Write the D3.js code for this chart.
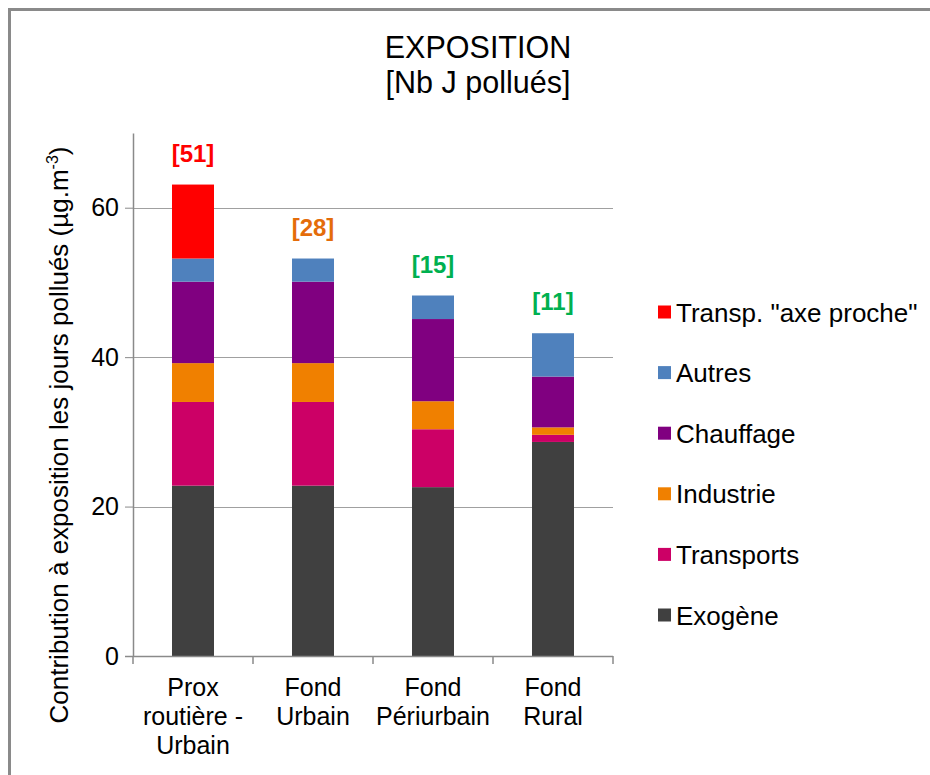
<!DOCTYPE html>
<html>
<head>
<meta charset="utf-8">
<script src="https://cdn.jsdelivr.net/npm/d3@7"></script>
<style>
  body { margin: 0; background: #fff; }
  svg text { font-family: "Liberation Sans", Arial, sans-serif; }
</style>
</head>
<body>
<svg id="chart"></svg>
<script>
const categories = [["Prox", "routière -", "Urbain"], ["Fond", "Urbain"], ["Fond", "Périurbain"], ["Fond", "Rural"]];
const seriesNames = ["Exogène", "Transports", "Industrie", "Chauffage", "Autres", 'Transp. "axe proche"'];
const seriesColors = ["#404040", "#cc0066", "#f08000", "#800080", "#4f81bd", "#ff0000"];
const exogene = [22.8, 22.8, 22.6, 28.65];
const transports = [11.2, 11.2, 7.75, 0.95];
const industrie = [5.2, 5.2, 3.75, 1.0];
const chauffage = [10.9, 10.9, 11.0, 6.8];
const autres = [3.1, 3.1, 3.15, 5.8];
const axeProche = [9.9, 0, 0, 0];
const dayLabels = ["[51]", "[28]", "[15]", "[11]"];
const dayColors = ["#ff0000", "#e46c0a", "#00b050", "#00b050"];
const yTicks = [0, 20, 40, 60];

const width = 930;
const height = 775;
const svg = d3.select("#chart").attr("width", width).attr("height", height);

// outer frame
svg.append("rect")
  .attr("x", 9.5).attr("y", 9.5)
  .attr("width", 1000).attr("height", 1000)
  .attr("fill", "none").attr("stroke", "#8a8a8a").attr("stroke-width", 3);

// title
svg.append("text").attr("x", 478).attr("y", 58).attr("text-anchor", "middle")
  .attr("font-size", 30.5).text("EXPOSITION");
svg.append("text").attr("x", 478).attr("y", 93).attr("text-anchor", "middle")
  .attr("font-size", 30.5).text("[Nb J pollués]");

const table = categories.map((c, i) => ({
  idx: i,
  "Exogène": exogene[i],
  "Transports": transports[i],
  "Industrie": industrie[i],
  "Chauffage": chauffage[i],
  "Autres": autres[i],
  'Transp. "axe proche"': axeProche[i]
}));

const stacked = d3.stack().keys(seriesNames)(table);

const x = d3.scaleBand()
  .domain(categories.map((c, i) => i))
  .range([133, 613])
  .paddingInner(0.65)
  .paddingOuter(0.325);

const y = d3.scaleLinear().domain([0, 70]).range([656, 133]);

// gridlines
svg.append("g")
  .selectAll("line")
  .data(yTicks.filter((t) => t > 0))
  .enter()
  .append("line")
  .attr("x1", 133).attr("x2", 613)
  .attr("y1", (d) => Math.round(y(d)) + 0.5).attr("y2", (d) => Math.round(y(d)) + 0.5)
  .attr("stroke", "#a0a0a0").attr("stroke-width", 1);

// bars
svg.append("g")
  .selectAll("g")
  .data(stacked)
  .enter()
  .append("g")
  .attr("fill", (d, i) => seriesColors[i])
  .selectAll("rect")
  .data((d) => d.filter((p) => p[1] - p[0] > 0))
  .enter()
  .append("rect")
  .attr("x", (d) => x(d.data.idx))
  .attr("y", (d) => y(d[1]))
  .attr("width", x.bandwidth())
  .attr("height", (d) => y(d[0]) - y(d[1]));

// y axis
const yAxis = d3.axisLeft(y).tickValues(yTicks).tickSize(8).tickSizeOuter(0).tickPadding(6);
const gy = svg.append("g").attr("transform", "translate(133,0)").call(yAxis);
gy.select(".domain").attr("stroke", "#8a8a8a").attr("stroke-width", 1.5);
gy.selectAll(".tick line").attr("stroke", "#8a8a8a");
gy.selectAll(".tick text").attr("font-size", 25).attr("fill", "#000")
  .attr("font-family", "Liberation Sans, Arial, sans-serif");

// x axis
svg.append("line")
  .attr("x1", 125).attr("x2", 613)
  .attr("y1", 656.5).attr("y2", 656.5)
  .attr("stroke", "#8a8a8a").attr("stroke-width", 1.5);
svg.append("g")
  .selectAll("line")
  .data(d3.range(categories.length + 1))
  .enter()
  .append("line")
  .attr("x1", (d) => 133 + d * x.step()).attr("x2", (d) => 133 + d * x.step())
  .attr("y1", 656).attr("y2", 664)
  .attr("stroke", "#8a8a8a").attr("stroke-width", 1.5);

const xLabels = svg.append("g")
  .selectAll("text")
  .data(categories)
  .enter()
  .append("text")
  .attr("text-anchor", "middle")
  .attr("font-size", 25)
  .attr("x", (d, i) => x(i) + x.bandwidth() / 2)
  .attr("y", 696);
xLabels.selectAll("tspan")
  .data((d) => d)
  .enter()
  .append("tspan")
  .attr("x", function () { return this.parentNode.getAttribute("x"); })
  .attr("dy", (d, i) => (i === 0 ? 0 : 29))
  .text((d) => d);

// y axis title
const yTitle = svg.append("text")
  .attr("transform", "translate(68,435) rotate(-90)")
  .attr("text-anchor", "middle")
  .attr("font-size", 26);
yTitle.append("tspan").text("Contribution à exposition les jours pollués (µg.m");
yTitle.append("tspan").attr("font-size", 16).attr("dy", -10).text("-3");
yTitle.append("tspan").attr("dy", 10).text(")");

// day labels above bars
const totals = table.map((d) => d3.sum(seriesNames, (k) => d[k]));
svg.append("g")
  .selectAll("text")
  .data(dayLabels)
  .enter()
  .append("text")
  .attr("text-anchor", "middle")
  .attr("font-size", 24)
  .attr("font-weight", "bold")
  .attr("fill", (d, i) => dayColors[i])
  .attr("x", (d, i) => x(i) + x.bandwidth() / 2)
  .attr("y", (d, i) => y(totals[i]) - 23)
  .text((d) => d);

// legend
const legend = svg.append("g")
  .selectAll("g")
  .data(seriesNames.slice().reverse())
  .enter()
  .append("g")
  .attr("transform", (d, i) => `translate(658, ${312 + i * 60.6})`);
legend.append("rect")
  .attr("x", 0).attr("y", -6.5)
  .attr("width", 13).attr("height", 13)
  .attr("fill", (d) => seriesColors[seriesNames.indexOf(d)]);
legend.append("text")
  .attr("x", 18).attr("y", 9.5)
  .attr("font-size", 26)
  .text((d) => d);
</script>
</body>
</html>
